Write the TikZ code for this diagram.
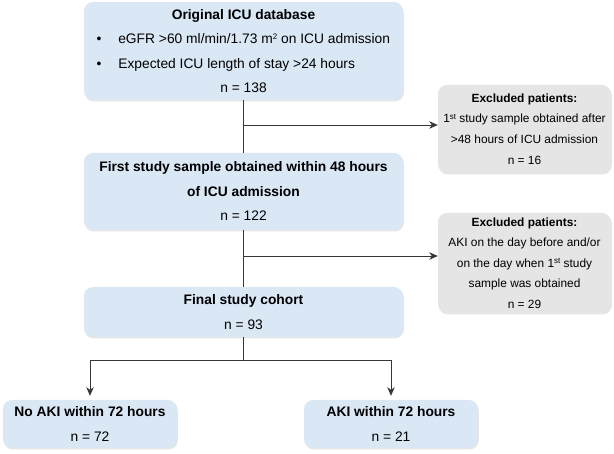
\documentclass[tikz,border=0pt]{standalone}
\usepackage{fontspec}
\setmainfont{Liberation Sans}
\usetikzlibrary{arrows.meta}
\usetikzlibrary{positioning}
\usetikzlibrary{shadows}
\definecolor{boxblue}{RGB}{218,231,245}
\definecolor{boxgray}{RGB}{229,229,229}
\definecolor{linegray}{RGB}{55,55,55}
\newcommand{\supsm}[1]{\raisebox{0.55ex}{\fontsize{8}{8}\selectfont #1}}

\begin{document}
\begin{tikzpicture}[x=1pt, y=1pt,
        stage/.style={rectangle, rounded corners=9pt, fill=boxblue, inner sep=0pt,
                      align=center, font=\fontsize{13.8}{24.5}\selectfont,
                      drop shadow={opacity=0.2, shadow xshift=0.8pt, shadow yshift=-1.5pt}},
        excl/.style={stage, fill=boxgray, font=\fontsize{11.9}{20.6}\selectfont},
        link/.style={draw=linegray, line width=0.9pt},
        arr/.style={link, -{Stealth[length=8.5pt, width=7.5pt, inset=2.5pt]}}]
        \useasboundingbox (0,0) rectangle (614,-454);
        \node[stage, minimum width=319pt, minimum height=98pt] (orig) at (243.5,-51)
           {\textbf{Original ICU database}\\
            \makebox[294pt][l]{\textbullet\hspace{17pt}eGFR >60 ml/min/1.73 m\supsm{2} on ICU admission}\\
            \makebox[294pt][l]{\textbullet\hspace{17pt}Expected ICU length of stay >24 hours}\\
            n = 138};
        \node[stage, minimum width=319pt, minimum height=77pt] (first) at (243.5,-191.5)
           {\textbf{First study sample obtained within 48 hours}\\
            \textbf{of ICU admission}\\ n = 122};
        \node[stage, minimum width=319pt, minimum height=50pt] (final) at (243.5,-312)
           {\textbf{Final study cohort}\\ n = 93};
        \node[excl, minimum width=173pt, minimum height=88pt] (ex1) at (524.5,-129)
           {\textbf{Excluded patients:}\\
            1\supsm{st} study sample obtained after\\
            >48 hours of ICU admission\\ n = 16};
        \node[excl, minimum width=173pt, minimum height=100pt] (ex2) at (524.5,-263)
           {\textbf{Excluded patients:}\\
            AKI on the day before and/or\\
            on the day when 1\supsm{st} study\\
            sample was obtained\\ n = 29};
        \node[stage, minimum width=174pt, minimum height=48pt] (noaki) at (90,-424)
           {\textbf{No AKI within 72 hours}\\ n = 72};
        \node[stage, minimum width=174pt, minimum height=48pt] (aki) at (391,-424)
           {\textbf{AKI within 72 hours}\\ n = 21};
        \coordinate (b1) at (243.5,-125);
        \coordinate (b2) at (243.5,-256);
        \coordinate (split) at (243.5,-360);
        \draw[link] (orig) -- (first);
        \draw[link] (first) -- (final);
        \draw[link] (final) -- (split);
        \draw[arr] (b1) -- (b1 -| ex1.west);
        \draw[arr] (b2) -- (b2 -| ex2.west);
        \foreach \n in {noaki,aki} {
           \draw[arr, shorten >=4pt] (split) -| (\n.north);
        }
\end{tikzpicture}
\end{document}
